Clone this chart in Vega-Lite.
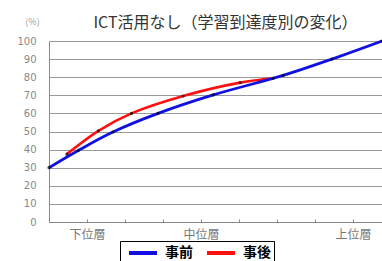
{
  "$schema": "https://vega.github.io/schema/vega-lite/v6.json",
  "autosize": {"type": "none"},
  "width": 333,
  "height": 181,
  "padding": {"left": 49, "top": 41, "right": 0, "bottom": 39},
  "background": "white",
  "config": {"view": {"stroke": null}, "font": "Noto Sans CJK JP"},
  "title": {
    "text": "ICT活用なし（学習到達度別の変化）",
    "font": "Noto Sans CJK JP",
    "fontSize": 16,
    "fontWeight": "normal",
    "color": "#333",
    "anchor": "middle",
    "dx": 10,
    "dy": 28,
    "offset": 14
  },
  "data": {
    "values": [
      {"x": 0.47, "y": 37.5, "series": "事後"},
      {"x": 1.3, "y": 50.4, "series": "事後"},
      {"x": 2.17, "y": 60, "series": "事後"},
      {"x": 3.53, "y": 69.6, "series": "事後"},
      {"x": 5.03, "y": 77, "series": "事後"},
      {"x": 5.9, "y": 79.4, "series": "事後"},
      {"x": 0, "y": 30, "series": "事前"},
      {"x": 0.77, "y": 39.5, "series": "事前"},
      {"x": 1.68, "y": 49.7, "series": "事前"},
      {"x": 2.87, "y": 60, "series": "事前"},
      {"x": 4.32, "y": 70.2, "series": "事前"},
      {"x": 6.16, "y": 81, "series": "事前"},
      {"x": 7.44, "y": 90, "series": "事前"},
      {"x": 8.76, "y": 100, "series": "事前"}
    ]
  },
  "encoding": {
    "x": {
      "field": "x",
      "type": "quantitative",
      "scale": {"domain": [0, 8.76], "nice": false, "zero": false},
      "axis": {
        "title": null,
        "values": [1, 2, 3, 4, 5, 6, 7, 8],
        "labelExpr": "datum.value == 1 ? '下位層' : datum.value == 4 ? '中位層' : datum.value == 8 ? '上位層' : ''",
        "grid": false,
        "domainColor": "#888",
        "tickColor": "#888",
        "tickSize": -3,
        "labelColor": "#777",
        "labelFontSize": 12,
        "labelPadding": 10,
        "labelFont": "Noto Sans CJK JP"
      }
    },
    "y": {
      "field": "y",
      "type": "quantitative",
      "scale": {"domain": [0, 100], "nice": false},
      "axis": {
        "values": [0, 10, 20, 30, 40, 50, 60, 70, 80, 90, 100],
        "title": "(%)",
        "titleAngle": 0,
        "titleAlign": "center",
        "titleBaseline": "middle",
        "titleX": -17,
        "titleY": -20,
        "titleFontSize": 9,
        "titleFontWeight": "normal",
        "titleColor": "#999",
        "grid": true,
        "gridColor": "#999",
        "gridWidth": 1,
        "domainColor": "#888",
        "ticks": false,
        "labelColor": "#888",
        "labelFontSize": 10,
        "labelPadding": 13,
        "labelFont": "DejaVu Sans"
      }
    }
  },
  "layer": [
    {
      "transform": [{"filter": "datum.series == '事後'"}],
      "mark": {"type": "line", "interpolate": "catmull-rom", "strokeWidth": 2.6},
      "encoding": {
        "color": {
          "field": "series",
          "type": "nominal",
          "scale": {"domain": ["事前", "事後"], "range": ["#1010e0", "#ff1010"]},
          "legend": {
            "title": null,
            "orient": "none",
            "legendX": 71,
            "legendY": 200,
            "direction": "horizontal",
            "symbolType": "M-0.43,0H3.57",
            "symbolStrokeWidth": 4,
            "symbolSize": 196,
            "labelOffset": 24,
            "labelFontSize": 14,
            "labelFontWeight": "bold",
            "labelColor": "#000",
            "labelFont": "Noto Sans CJK JP",
            "strokeColor": "#000",
            "padding": 3,
            "columnPadding": 5
          }
        }
      }
    },
    {
      "transform": [{"filter": "datum.series == '事前'"}],
      "mark": {"type": "line", "interpolate": "catmull-rom", "strokeWidth": 2.8},
      "encoding": {
        "color": {"field": "series", "type": "nominal"}
      }
    },
    {
      "mark": {"type": "point", "filled": true, "color": "#000", "size": 10}
    }
  ]
}
